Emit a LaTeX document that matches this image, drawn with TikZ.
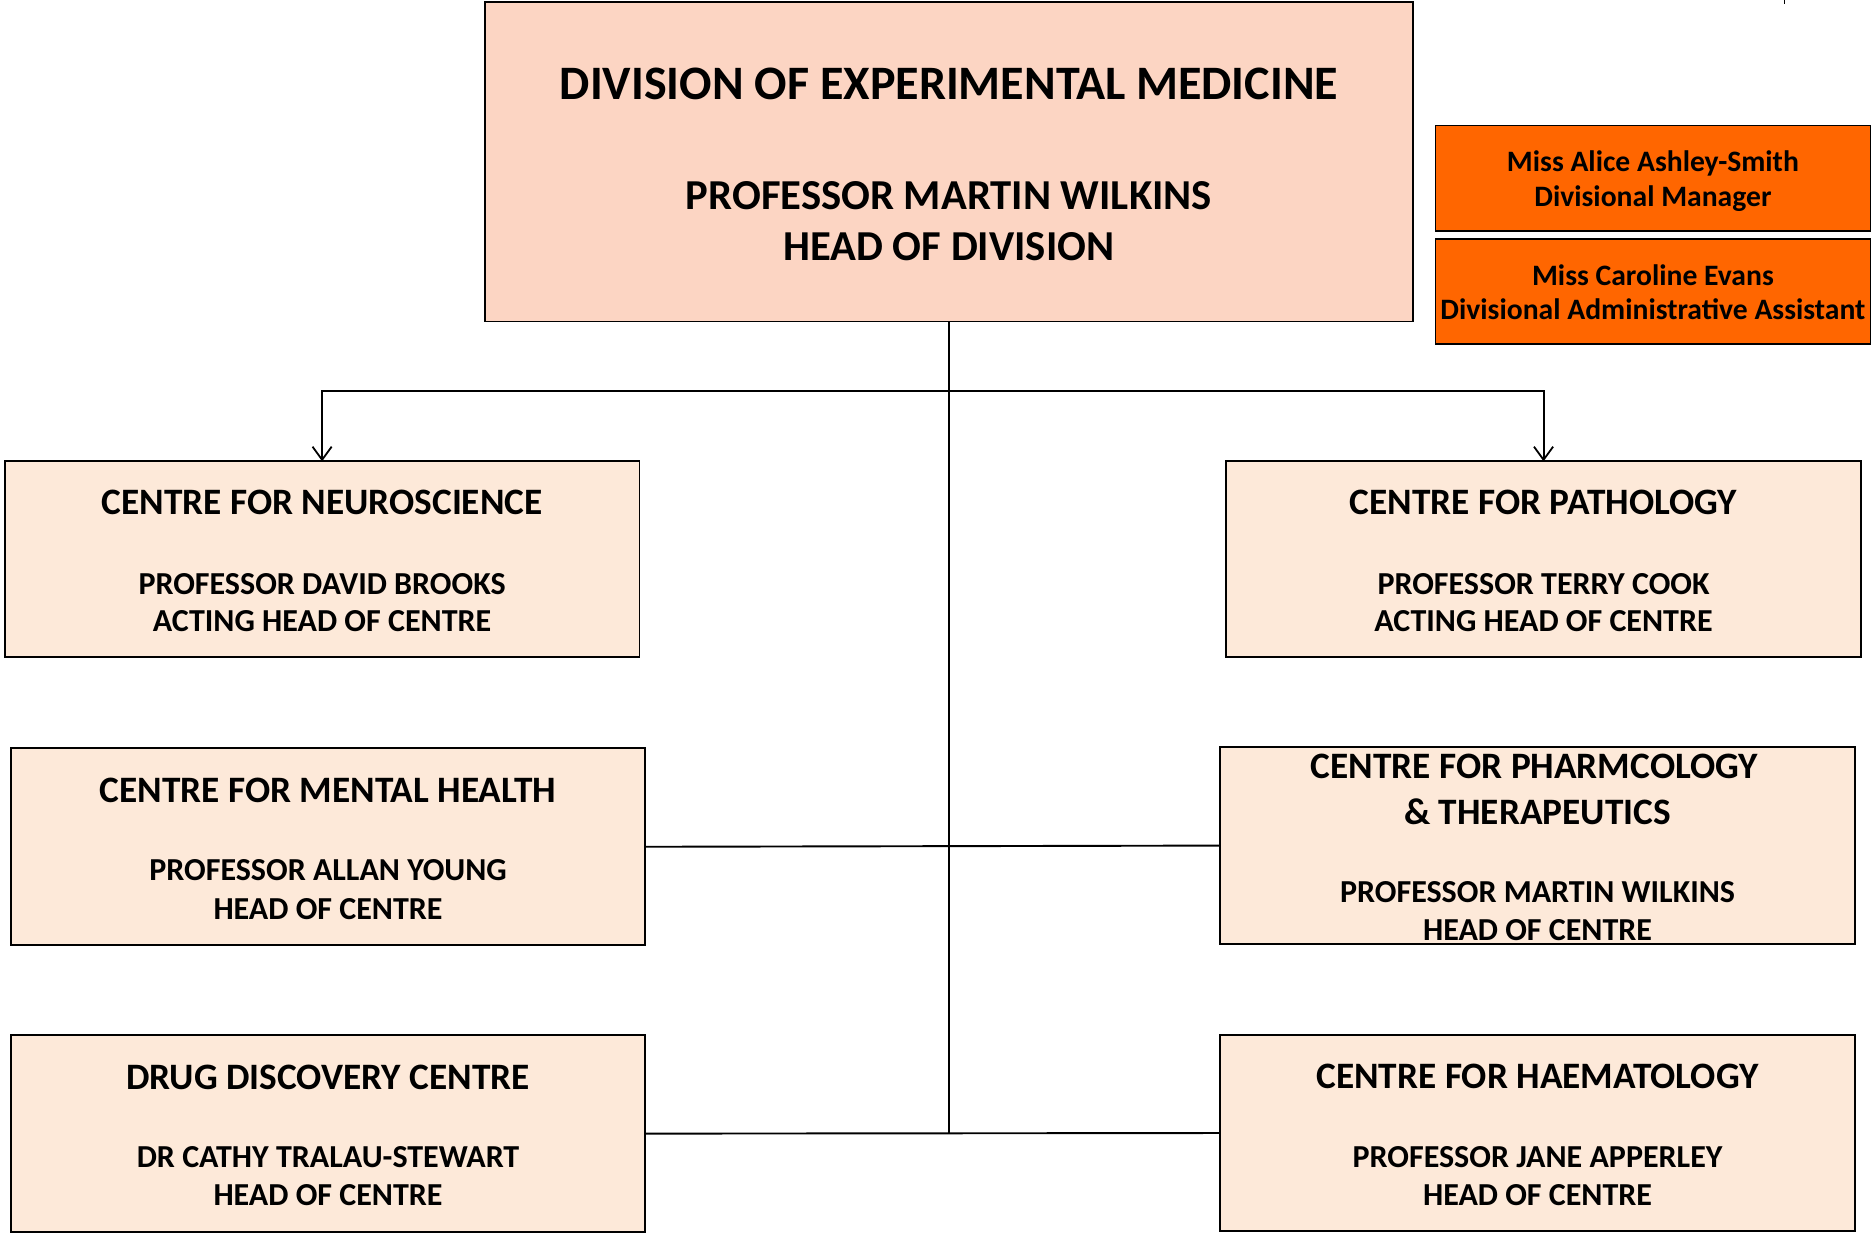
\documentclass[tikz,border=0pt]{standalone}
\usepackage{fontspec}
\setmainfont{Carlito}
\usetikzlibrary{arrows.meta}
\definecolor{mainfill}{RGB}{252,213,195}
\definecolor{centrefill}{RGB}{253,233,217}
\definecolor{orangefill}{RGB}{255,102,0}
\begin{document}
\begin{tikzpicture}[x=1pt,y=-1pt,
  box/.style={draw=black,line width=1.5pt,inner sep=0pt,outer sep=0pt},
  mainbox/.style={box,fill=mainfill},
  centrebox/.style={box,fill=centrefill,minimum width=531pt},
  orangebox/.style={box,fill=orangefill,minimum width=364pt,minimum height=88pt},
  bigtitle/.style={anchor=base,inner sep=0pt,font=\fontsize{40.2}{46}\bfseries},
  bigsub/.style={anchor=base,inner sep=0pt,font=\fontsize{35.7}{42}\bfseries},
  ctitle/.style={anchor=base,inner sep=0pt,font=\fontsize{31.2}{36}\bfseries},
  csub/.style={anchor=base,inner sep=0pt,font=\fontsize{26.8}{31}\bfseries},
  otext/.style={anchor=base,inner sep=0pt,font=\fontsize{24.8}{29}\bfseries},
  conn/.style={draw=black,line width=1.6pt},
  arr/.style={conn,-{Straight Barb[length=11pt,width=16pt,line width=1.5pt]}}]
\useasboundingbox (0,0) rectangle (1568,1037);

% boxes
\node[mainbox,minimum width=776pt,minimum height=267pt] (main) at (794,135.5) {};
\node[orangebox] (mgr) at (1383,149) {};
\node[orangebox] (asst) at (1383,244) {};
\node[centrebox,minimum height=164pt] (neuro) at (269.5,468) {};
\node[centrebox,minimum height=164pt] (path) at (1291.5,468) {};
\node[centrebox,minimum height=165pt] (mental) at (274.5,708.5) {};
\node[centrebox,minimum height=165pt] (pharm) at (1286.5,707.5) {};
\node[centrebox,minimum height=165pt] (drug) at (274.5,948.5) {};
\node[centrebox,minimum height=164pt] (haem) at (1286.5,948) {};

% texts
\node[bigtitle] (mainT) at (794,83) {DIVISION OF EXPERIMENTAL MEDICINE};
\node[bigsub] (mainA) at (794,175) {PROFESSOR MARTIN WILKINS};
\node[bigsub] (mainB) at (794,218) {HEAD OF DIVISION};

\node[otext] (mgrA) at (1383,143.5) {Miss Alice Ashley-Smith};
\node[otext] (mgrB) at (1383,172.5) {Divisional Manager};
\node[otext] (asstA) at (1383,238.5) {Miss Caroline Evans};
\node[otext] (asstB) at (1383,267.5) {Divisional Administrative Assistant};

\node[ctitle] (neuroT) at (269.5,430.5) {CENTRE FOR NEUROSCIENCE};
\node[csub] (neuroA) at (269.5,497) {PROFESSOR DAVID BROOKS};
\node[csub] (neuroB) at (269.5,528) {ACTING HEAD OF CENTRE};

\node[ctitle] (pathT) at (1291.5,430.5) {CENTRE FOR PATHOLOGY};
\node[csub] (pathA) at (1291.5,497) {PROFESSOR TERRY COOK};
\node[csub] (pathB) at (1291.5,528) {ACTING HEAD OF CENTRE};

\node[ctitle] (mentalT) at (274.5,671.5) {CENTRE FOR MENTAL HEALTH};
\node[csub] (mentalA) at (274.5,737) {PROFESSOR ALLAN YOUNG};
\node[csub] (mentalB) at (274.5,769) {HEAD OF CENTRE};

\node[ctitle] (pharmT) at (1284,651.5) {CENTRE FOR PHARMCOLOGY};
\node[ctitle] (pharmU) at (1286.5,689.5) {\& THERAPEUTICS};
\node[csub] (pharmA) at (1286.5,755) {PROFESSOR MARTIN WILKINS};
\node[csub] (pharmB) at (1286.5,787) {HEAD OF CENTRE};

\node[ctitle] (drugT) at (274.5,911.5) {DRUG DISCOVERY CENTRE};
\node[csub] (drugA) at (274.5,977) {DR CATHY TRALAU-STEWART};
\node[csub] (drugB) at (274.5,1009) {HEAD OF CENTRE};

\node[ctitle] (haemT) at (1286.5,910.5) {CENTRE FOR HAEMATOLOGY};
\node[csub] (haemA) at (1286.5,977) {PROFESSOR JANE APPERLEY};
\node[csub] (haemB) at (1286.5,1009) {HEAD OF CENTRE};

% connectors
\coordinate (j0) at (794,327);
\coordinate (jb) at (794,948);
\draw[conn] (main.south) -- (jb);
\draw[arr] (j0) -| (neuro.north);
\draw[arr] (j0) -| (path.north);
\draw[conn] (mental.east) -- (pharm.west);
\draw[conn] (drug.east) -- (haem.west);

% small tick at top right
\coordinate (tickA) at (1493,0);
\coordinate (tickB) at (1493,3);
\draw[line width=1pt] (tickA) -- (tickB);
\end{tikzpicture}
\end{document}
